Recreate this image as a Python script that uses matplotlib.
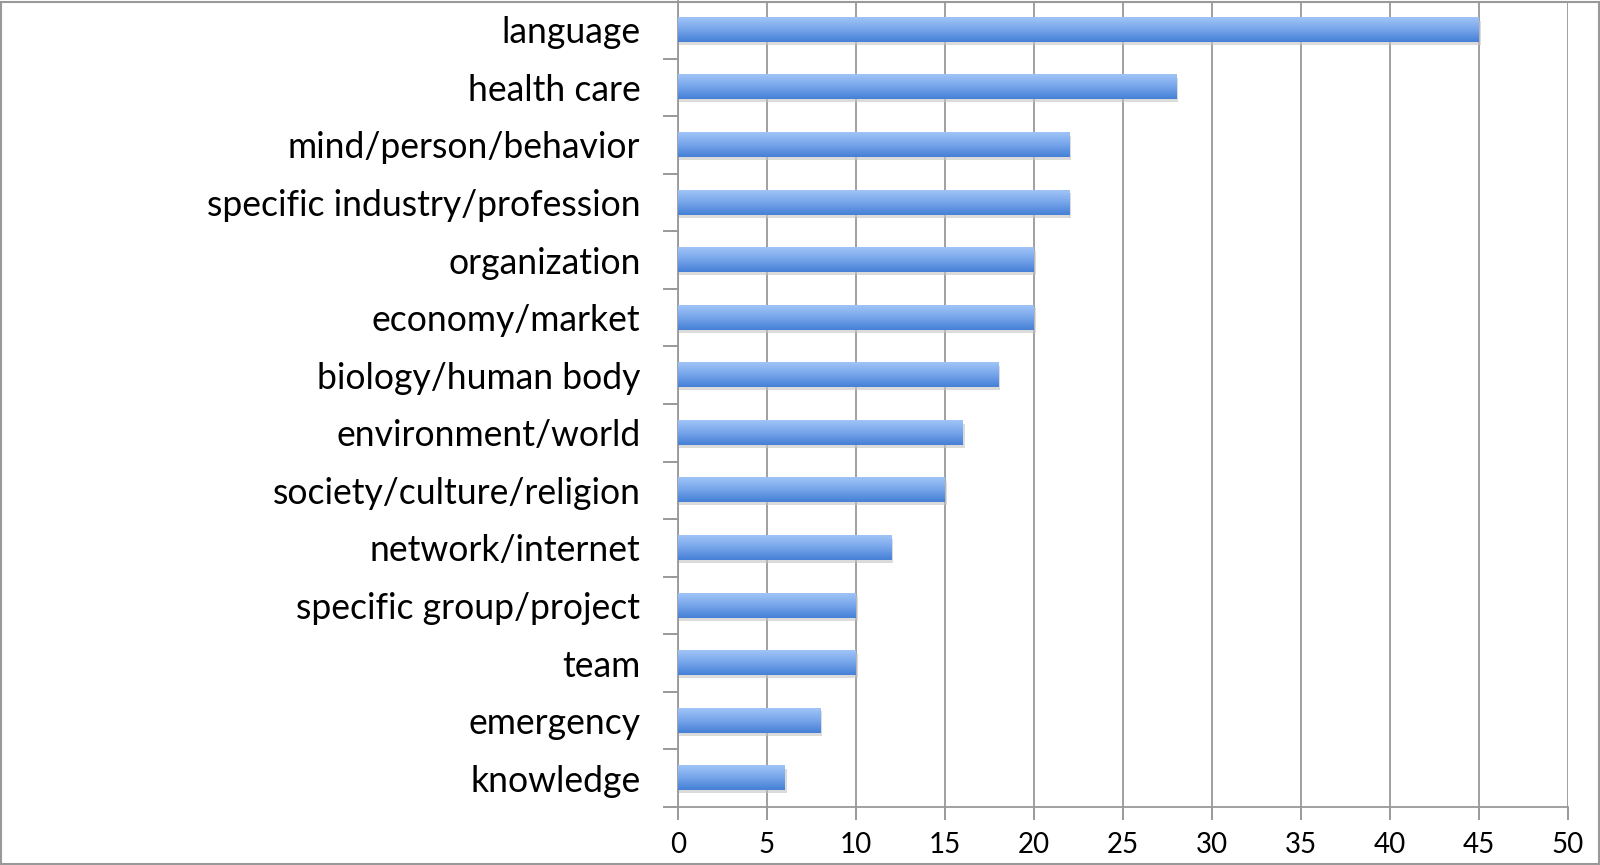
import matplotlib
matplotlib.use("Agg")
import matplotlib.pyplot as plt
import numpy as np
from matplotlib.colors import LinearSegmentedColormap
from matplotlib.patches import Rectangle

categories = ["language", "health care", "mind/person/behavior",
              "specific industry/profession", "organization", "economy/market",
              "biology/human body", "environment/world", "society/culture/religion",
              "network/internet", "specific group/project", "team", "emergency",
              "knowledge"]
values = [45, 28, 22, 22, 20, 20, 18, 16, 15, 12, 10, 10, 8, 6]
xticks = [0, 5, 10, 15, 20, 25, 30, 35, 40, 45, 50]

plt.rcParams['font.family'] = ['Lato', 'DejaVu Sans']

fig = plt.figure(figsize=(16, 8.65), dpi=100)
ax = fig.add_axes([0.42375, 0.067, 0.98 - 0.42375, 0.9988 - 0.067])

n = len(categories)
ypos = np.arange(n)
bh = 0.42
cmap = LinearSegmentedColormap.from_list("g", ["#a0c4f7", "#76a5ea", "#4580d6"])
grad = np.linspace(0, 1, 64).reshape(-1, 1)

ax.set_xlim(0, 50)
ax.set_ylim(n - 0.5, -0.5)

for y, v in zip(ypos, values):
    # shadow
    ax.add_patch(Rectangle((0, y - bh / 2 + 0.05), v + 0.1, bh, facecolor="#c4c4c4",
                           edgecolor="none", alpha=0.6, zorder=2))
    ax.imshow(grad, cmap=cmap, aspect="auto", extent=(0, v, y + bh / 2, y - bh / 2),
              zorder=3, interpolation="bicubic")

ax.set_xticks(xticks)
ax.set_xticklabels([str(t) for t in xticks], fontsize=20)
ax.set_yticks(ypos)
ax.set_yticklabels(categories, fontsize=25.6)
ax.set_yticks(np.arange(-0.5, n, 1.0)[1:], minor=True)
ax.tick_params(axis="y", which="major", length=0, pad=27)
ax.tick_params(axis="y", which="minor", length=11, width=1.2, color="#888888", direction="out")
ax.tick_params(axis="x", length=9, width=1.2, color="#888888", direction="out", pad=9)

ax.grid(axis="x", color="#999999", linewidth=1.3, zorder=1)
ax.set_axisbelow(True)
for s in ["top", "right"]:
    ax.spines[s].set_visible(False)
for s in ["left", "bottom"]:
    ax.spines[s].set_color("#999999")
    ax.spines[s].set_linewidth(1.3)

fig.add_artist(Rectangle((0.0008, 0.0008), 0.9984, 0.9974, transform=fig.transFigure,
                         fill=False, edgecolor="#999999", linewidth=1.5))

fig.savefig("out.png", dpi=100)
